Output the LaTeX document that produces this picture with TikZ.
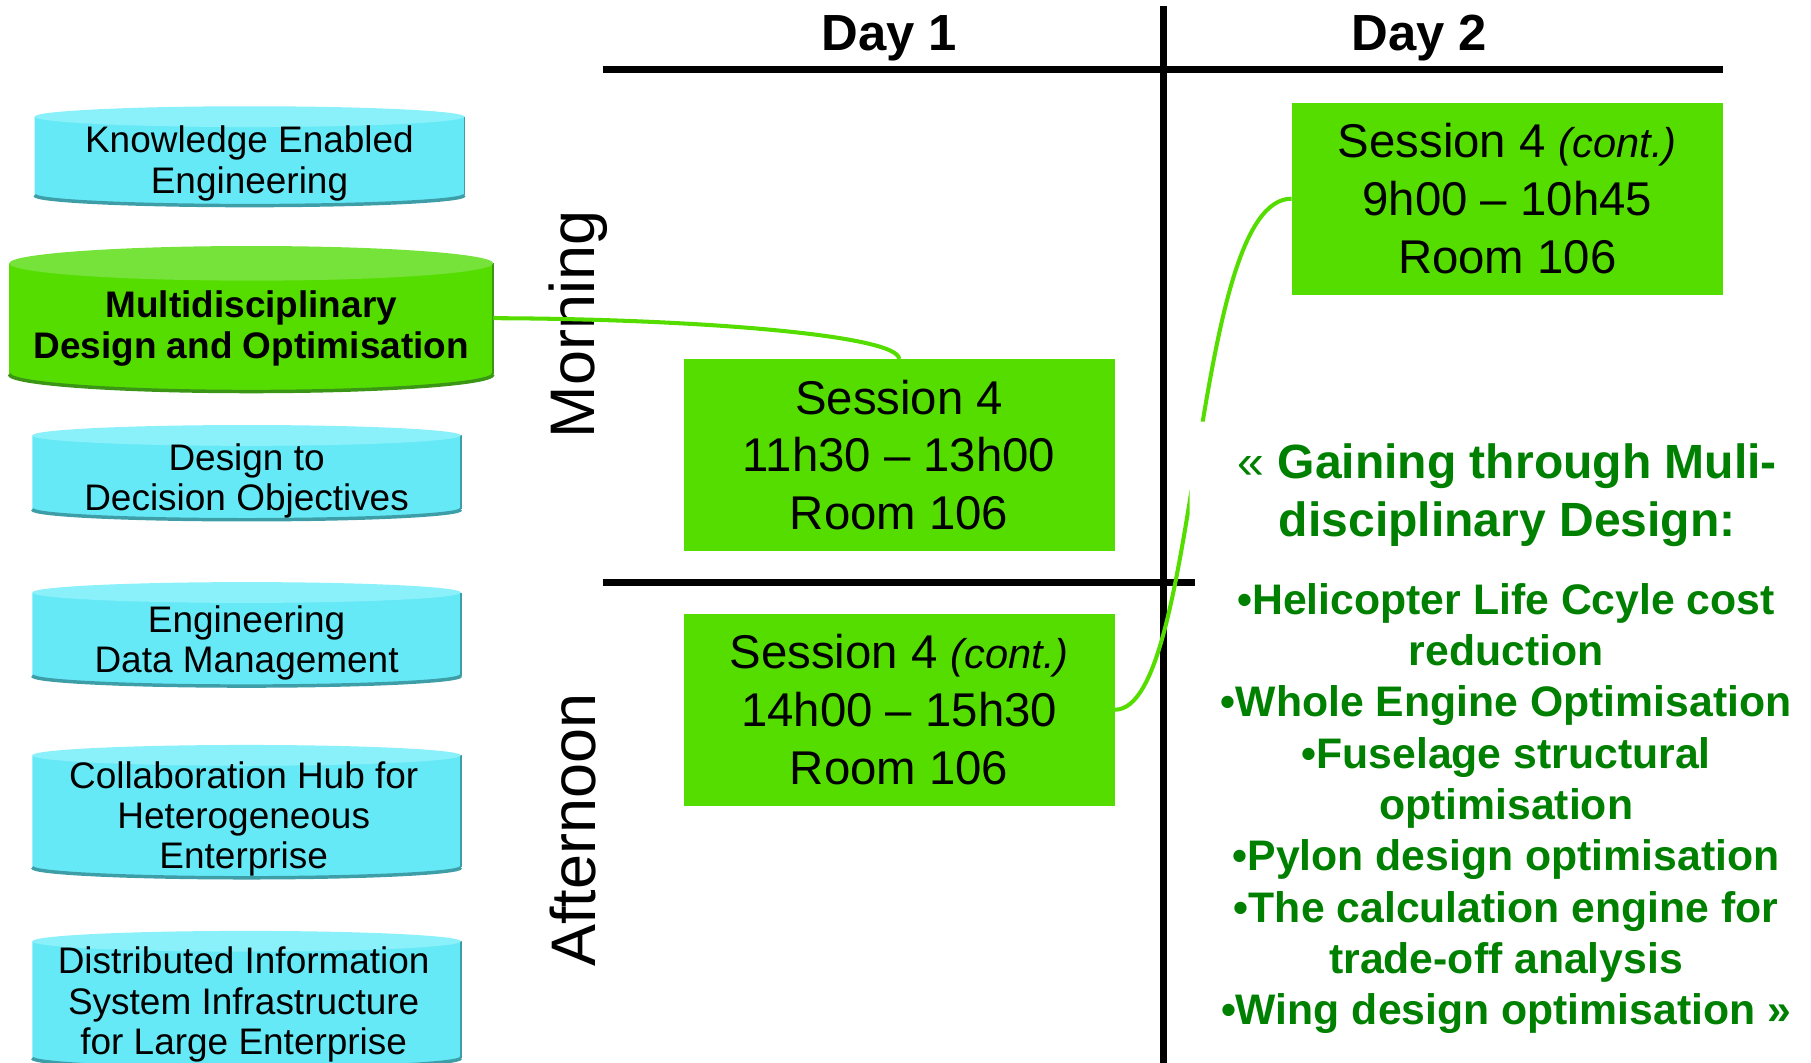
\documentclass[tikz,border=0pt]{standalone}
\usepackage{fontspec}
\setmainfont{Liberation Sans}
\definecolor{sgreen}{RGB}{85,221,0}
\definecolor{tgreen}{RGB}{0,128,0}
\definecolor{cyanbody}{RGB}{102,233,246}
\definecolor{cyantop}{RGB}{138,240,250}
\definecolor{cyanedge}{RGB}{62,158,168}
\definecolor{gtop}{RGB}{118,227,58}
\definecolor{gedge}{RGB}{58,150,20}
\newcommand\drawcyl[8]{%
  \pgfmathsetmacro\cylcx{(#1+#2)/2}%
  \pgfmathsetmacro\cylrx{(#2-#1)/2}%
  \pgfmathsetmacro\cylyt{#3+#5}%
  \pgfmathsetmacro\cylyb{#4-#5}%
  \fill[#6] (#1,\cylyt) -- (#1,\cylyb) arc[start angle=180,end angle=360,x radius=\cylrx pt,y radius=#5pt] -- (#2,\cylyt) -- cycle;
  \draw[#8,line width=1.2pt] (#2,\cylyt) -- (#2,\cylyb);
  \draw[#8,line width=3pt] (#1,\cylyb) arc[start angle=180,end angle=360,x radius=\cylrx pt,y radius=#5pt];
  \fill[#7] (\cylcx,\cylyt) ellipse[x radius=\cylrx pt,y radius=#5pt];
}
\begin{document}
\begin{tikzpicture}[x=1pt,y=-1pt,
  session/.style={fill=sgreen,minimum width=373pt,minimum height=166pt,inner sep=0pt,align=center,font=\fontsize{41}{50}\selectfont},
  cyltext/.style={align=center,inner sep=0pt,font=\fontsize{32}{35}\selectfont},
  link/.style={draw=sgreen,line width=3.5pt},
  gridline/.style={line width=6pt,black},
  daylabel/.style={anchor=base,font=\fontsize{44}{50}\selectfont\bfseries},
  period/.style={rotate=90,anchor=base,font=\fontsize{54.5}{60}\selectfont},
  greentext/.style={align=center,text=tgreen,inner sep=0pt}]
\useasboundingbox (0,0) rectangle (1568,920);

% cylinders
\drawcyl{30}{402}{92}{178}{9}{cyanbody}{cyantop}{cyanedge}
\drawcyl{8}{427}{213}{339}{15}{sgreen}{gtop}{gedge}
\drawcyl{28}{399}{368}{450}{9}{cyanbody}{cyantop}{cyanedge}
\drawcyl{28}{399}{504}{594}{9}{cyanbody}{cyantop}{cyanedge}
\drawcyl{28}{399}{645}{760}{9}{cyanbody}{cyantop}{cyanedge}
\drawcyl{28}{399}{806}{925}{9}{cyanbody}{cyantop}{cyanedge}

\node[cyltext,minimum width=372pt] (kee) at (216,141.5) {Knowledge Enabled\\Engineering};
\node[cyltext,minimum width=419pt,font=\fontsize{32}{35}\selectfont\bfseries] (mdo) at (217.5,284.5) {Multidisciplinary\\Design and Optimisation};
\node[cyltext,minimum width=371pt] (ddo) at (213.5,416.5) {Design to\\Decision Objectives};
\node[cyltext,minimum width=371pt] (edm) at (213.5,556.5) {Engineering\\Data Management};
\node[cyltext,minimum width=371pt] (chhe) at (211,709) {Collaboration Hub for\\Heterogeneous\\Enterprise};
\node[cyltext,minimum width=371pt] (disi) at (211,870) {Distributed Information\\System Infrastructure\\for Large Enterprise};

% grid
\draw[gridline] (522,60) -- (1492,60);
\draw[gridline] (1007,5) -- (1007,920);
\draw[gridline] (522,504) -- (1035,504);

\node[daylabel] (day1) at (770,44) {Day 1};
\node[daylabel] (day2) at (1229,44) {Day 2};
\node[period] (morning) at (515,281) {Morning};
\node[period] (afternoon) at (516,719) {Afternoon};

% sessions
\node[session] (s1) at (778.5,394) {Session 4\\11h30 – 13h00\\Room 106};
\node[session] (s2) at (778.5,614.5) {Session 4 {\fontsize{36}{50}\selectfont\itshape (cont.)}\\14h00 – 15h30\\Room 106};
\node[session] (s3) at (1305,172) {Session 4 {\fontsize{36}{50}\selectfont\itshape (cont.)}\\9h00 – 10h45\\Room 106};

% connectors
\draw[link] ([yshift=9pt]mdo.east) .. controls (600,276) and (778,290) .. (s1.north);
\begin{scope}
  \clip (0,0) -- (1568,0) -- (1568,920) -- (0,920) -- cycle
        (1030,365) -- (1030,461) -- (1560,461) -- (1560,365) -- cycle;
  \draw[link] (s2.east) .. controls (1040,614.5) and (1030,172) .. (s3.west);
\end{scope}

% green texts
\node[greentext,font=\fontsize{41.6}{50}\selectfont\bfseries] (title) at (1305,429) {{\mdseries «} Gaining through Muli-\\disciplinary Design:};
\node[greentext,font=\fontsize{37}{44.4}\selectfont\bfseries] (bullets) at (1304,700) {•Helicopter Life Ccyle cost\\reduction\\•Whole Engine Optimisation\\•Fuselage structural\\optimisation\\•Pylon design optimisation\\•The calculation engine for\\trade-off analysis\\•Wing design optimisation »};
\end{tikzpicture}
\end{document}
